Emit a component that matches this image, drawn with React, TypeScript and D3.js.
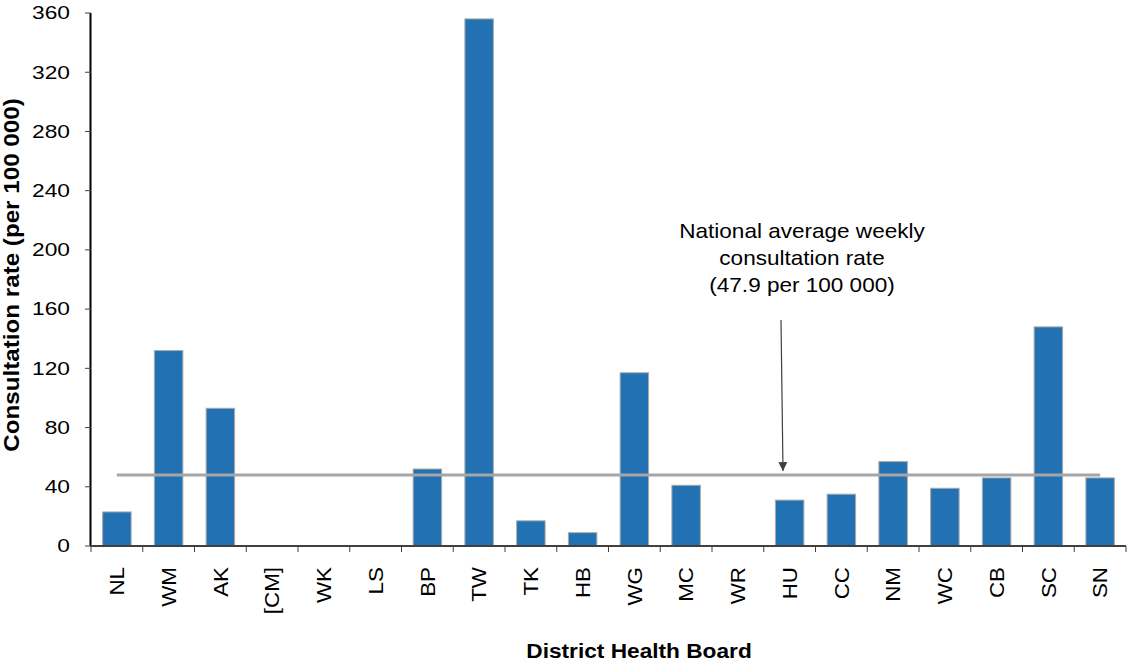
import React from 'react';
import * as d3 from 'd3';

const boards = ['NL', 'WM', 'AK', '[CM]', 'WK', 'LS', 'BP', 'TW', 'TK', 'HB', 'WG', 'MC', 'WR', 'HU', 'CC', 'NM', 'WC', 'CB', 'SC', 'SN'];
const rates = [23, 132, 93, 0, 0, 0, 52, 356, 17, 9, 117, 41, 0, 31, 35, 57, 39, 46, 148, 46];
const yTicks = [0, 40, 80, 120, 160, 200, 240, 280, 320, 360];
const nationalAverage = 47.9;
const noteLines = ['National average weekly', 'consultation rate', '(47.9 per 100 000)'];

const FONT = '"Liberation Sans", Arial, sans-serif';

const App: React.FC = () => {
  const width = 1128;
  const height = 662;
  const margin = { top: 13, left: 91, right: 2, bottom: 116 };
  const plotBottom = height - margin.bottom; // 546

  const x = d3.scaleBand<string>()
    .domain(boards)
    .range([margin.left, width - margin.right])
    .padding(0);

  const y = d3.scaleLinear()
    .domain([0, 360])
    .range([plotBottom, margin.top]);

  const bw = x.bandwidth();
  const barW = bw * 0.55;
  const first = (x(boards[0]) || 0) + bw / 2;
  const last = (x(boards[boards.length - 1]) || 0) + bw / 2;
  const avgY = y(nationalAverage);

  const data = boards.map((b, i) => ({ board: b, value: rates[i] }));
  const bounds = [...boards.map(b => x(b) || 0), x.range()[1]];

  return (
    <svg width={width} height={height} style={{ position: 'fixed', left: 0, top: 0, background: '#fff' }}>
      <defs>
        <marker id="arrowHead" viewBox="0 0 10 10" refX="10" refY="5" markerWidth="9" markerHeight="9" markerUnits="userSpaceOnUse" orient="auto">
          <path d="M0,0 L10,5 L0,10 z" fill="#404040" />
        </marker>
      </defs>

      {/* bars */}
      {data.filter(d => d.value > 0).map(d => (
        <rect
          key={d.board}
          x={(x(d.board) || 0) + (bw - barW) / 2}
          y={y(d.value)}
          width={barW}
          height={plotBottom - y(d.value)}
          fill="#2271b3"
          stroke="#a9a9a9"
          strokeWidth={1}
        />
      ))}

      {/* national average line */}
      <line x1={first} x2={last} y1={avgY} y2={avgY} stroke="#a6a6a6" strokeWidth={3} />

      {/* y axis */}
      <line x1={margin.left - 0.5} x2={margin.left - 0.5} y1={margin.top} y2={plotBottom} stroke="#000" strokeWidth={2} />
      {yTicks.map(t => (
        <g key={t}>
          <line x1={margin.left - 6} x2={margin.left} y1={y(t)} y2={y(t)} stroke="#404040" strokeWidth={1} />
          <text
            transform={`translate(70,${y(t)}) scale(1.3,1)`}
            dy="0.36em"
            textAnchor="end"
            fontFamily={FONT}
            fontSize={17.5}
            fill="#000"
          >
            {t}
          </text>
        </g>
      ))}

      {/* x axis */}
      <line x1={margin.left - 1} x2={x.range()[1]} y1={plotBottom} y2={plotBottom} stroke="#404040" strokeWidth={2} />
      {bounds.map((bx, i) => (
        <line key={i} x1={bx} x2={bx} y1={plotBottom} y2={plotBottom + 6} stroke="#404040" strokeWidth={1} />
      ))}
      {boards.map(b => (
        <text
          key={b}
          transform={`translate(${(x(b) || 0) + bw / 2 + 7.2},${plotBottom + 21}) rotate(-90) scale(1.12,1)`}
          textAnchor="end"
          fontFamily={FONT}
          fontSize={20}
          fill="#000"
        >
          {b}
        </text>
      ))}

      {/* axis titles */}
      <text
        transform="translate(19,275) rotate(-90) scale(1.1,1)"
        textAnchor="middle"
        fontFamily={FONT}
        fontWeight="bold"
        fontSize={22}
        fill="#000"
      >
        Consultation rate (per 100 000)
      </text>
      <text
        transform="translate(639,658) scale(1.08,1)"
        textAnchor="middle"
        fontFamily={FONT}
        fontWeight="bold"
        fontSize={21}
        fill="#000"
      >
        District Health Board
      </text>

      {/* annotation */}
      {noteLines.map((l, i) => (
        <text
          key={i}
          transform={`translate(802,${238 + i * 27}) scale(1.1,1)`}
          textAnchor="middle"
          fontFamily={FONT}
          fontSize={20.5}
          fill="#000"
        >
          {l}
        </text>
      ))}
      <line x1={781} y1={320} x2={783} y2={avgY - 4} stroke="#404040" strokeWidth={1.2} markerEnd="url(#arrowHead)" />
    </svg>
  );
};

export default App;
